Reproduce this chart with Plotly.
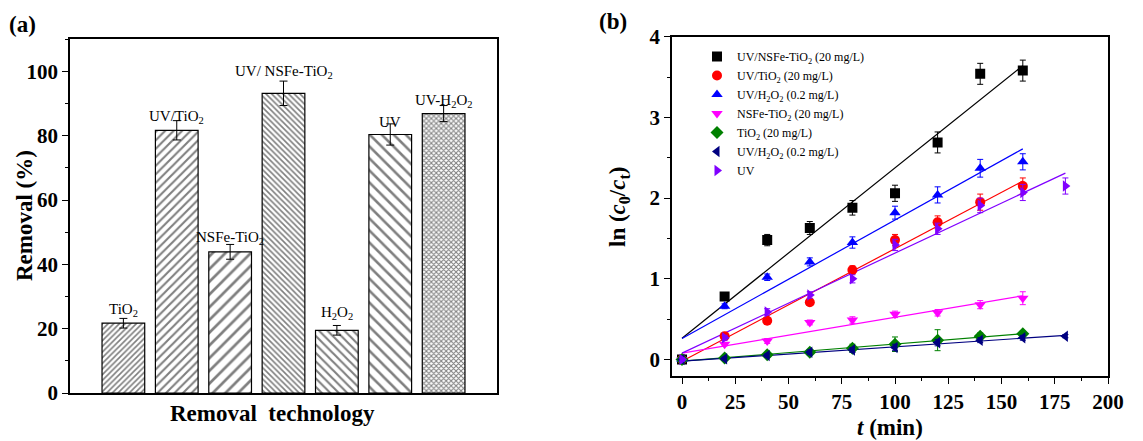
import plotly.graph_objects as go

FONT = "Liberation Serif"

# ---------------- Panel (a) data ----------------
bar_labels = ["TiO<sub>2</sub>", "UV/TiO<sub>2</sub>", "NSFe-TiO<sub>2</sub>", "UV/ NSFe-TiO<sub>2</sub>",
              "H<sub>2</sub>O<sub>2</sub>", "UV", "UV-H<sub>2</sub>O<sub>2</sub>"]
bar_pos = [1, 2, 3, 4, 5, 6, 7]
removal = [21.7, 81.7, 43.9, 93.2, 19.5, 80.4, 86.9]
removal_err = [1.5, 3.0, 2.3, 3.8, 1.5, 3.3, 2.5]

# ---------------- Panel (b) data ----------------
t = [0, 20, 40, 60, 80, 100, 120, 140, 160]
t_ext = [0, 20, 40, 60, 80, 100, 120, 140, 160, 180]

uv_nsfe = [0.0, 0.78, 1.48, 1.63, 1.88, 2.06, 2.69, 3.54, 3.58]
uv_nsfe_err = [0.02, 0.04, 0.07, 0.08, 0.09, 0.10, 0.13, 0.13, 0.13]
uv_tio2 = [0.0, 0.29, 0.48, 0.71, 1.11, 1.48, 1.70, 1.95, 2.15]
uv_tio2_err = [0.02, 0.03, 0.03, 0.04, 0.05, 0.07, 0.08, 0.10, 0.10]
uv_h2o2 = [0.0, 0.66, 1.02, 1.21, 1.45, 1.82, 2.04, 2.37, 2.45]
uv_h2o2_err = [0.02, 0.03, 0.04, 0.05, 0.07, 0.08, 0.10, 0.11, 0.10]
nsfe = [0.0, 0.19, 0.23, 0.46, 0.49, 0.56, 0.58, 0.68, 0.76]
nsfe_err = [0.02, 0.02, 0.03, 0.03, 0.04, 0.04, 0.04, 0.05, 0.08]
tio2 = [0.0, 0.02, 0.06, 0.09, 0.14, 0.19, 0.24, 0.29, 0.32]
tio2_err = [0.02, 0.02, 0.03, 0.03, 0.05, 0.09, 0.13, 0.04, 0.03]
uv_h2o2_b = [0.0, 0.01, 0.05, 0.09, 0.12, 0.15, 0.21, 0.24, 0.27, 0.29]
uv_h2o2_b_err = [0.02, 0.02, 0.02, 0.03, 0.03, 0.04, 0.04, 0.03, 0.03, 0.02]
uv_only = [0.0, 0.27, 0.59, 0.80, 1.00, 1.42, 1.62, 1.91, 2.07, 2.15]
uv_only_err = [0.02, 0.03, 0.04, 0.04, 0.05, 0.07, 0.07, 0.09, 0.10, 0.10]

# linear fit lines (intercept, slope, end time)
fit_intercept = [0.265, -0.02, 0.26, 0.08, -0.02, -0.02, 0.08]
fit_slope = [0.0211, 0.01394, 0.01469, 0.00444, 0.002125, 0.00178, 0.01239]
fit_end = [160, 160, 160, 160, 160, 180, 180]

series_names = ["UV/NSFe-TiO<sub>2</sub> (20 mg/L)", "UV/TiO<sub>2</sub> (20 mg/L)",
                "UV/H<sub>2</sub>O<sub>2</sub> (0.2 mg/L)", "NSFe-TiO<sub>2</sub> (20 mg/L)",
                "TiO<sub>2</sub> (20 mg/L)", "UV/H<sub>2</sub>O<sub>2</sub> (0.2 mg/L)", "UV"]
series_x = [t, t, t, t, t, t_ext, t_ext]
series_y = [uv_nsfe, uv_tio2, uv_h2o2, nsfe, tio2, uv_h2o2_b, uv_only]
series_err = [uv_nsfe_err, uv_tio2_err, uv_h2o2_err, nsfe_err, tio2_err, uv_h2o2_b_err, uv_only_err]

# ---------------- Styles ----------------
patterns = [("/", 4, 0.4), ("/", 6, 0.35), ("/", 9, 0.3), ("\\", 4, 0.4), ("\\", 6, 0.35),
            ("\\", 8.5, 0.3), ("x", 3.5, 0.5)]
symbols = ["square", "circle", "triangle-up", "triangle-down", "diamond", "triangle-left", "triangle-right"]
colors = ["#000000", "#ff0000", "#0000ff", "#ff00ff", "#008000", "#000080", "#8000ff"]
label_offset = [2.6, 1.0, 2.0, 2.8, 3.8, 0.6, 1.4]

fig = go.Figure()

# Panel (a) bars
for i in range(len(bar_pos)):
    shp, sz, sol = patterns[i]
    fig.add_trace(go.Bar(
        x=[bar_pos[i]], y=[removal[i]], width=0.8,
        error_y=dict(type="data", array=[removal_err[i]], color="black", thickness=1, width=4),
        marker=dict(color="white", line=dict(color="black", width=1.2),
                    pattern=dict(shape=shp, size=sz, solidity=sol, fgcolor="black", bgcolor="white")),
        showlegend=False, xaxis="x", yaxis="y"))

for i in range(len(bar_pos)):
    fig.add_annotation(x=bar_pos[i], y=removal[i] + removal_err[i] + label_offset[i],
                       xref="x", yref="y", text=bar_labels[i], showarrow=False,
                       xanchor="center", yanchor="middle", font=dict(family=FONT, size=15, color="black"))

# Panel (b) fit lines
for i in range(len(series_names)):
    x0, x1 = 0, fit_end[i]
    fig.add_trace(go.Scatter(
        x=[x0, x1], y=[fit_intercept[i] + fit_slope[i] * x0, fit_intercept[i] + fit_slope[i] * x1],
        mode="lines", line=dict(color=colors[i], width=1.2), showlegend=False,
        hoverinfo="skip", xaxis="x2", yaxis="y2"))

# Panel (b) markers
for i in range(len(series_names)):
    fig.add_trace(go.Scatter(
        x=series_x[i], y=series_y[i], mode="markers", name=series_names[i],
        marker=dict(symbol=symbols[i], color=colors[i], size=10),
        error_y=dict(type="data", array=series_err[i], color=colors[i], thickness=1, width=3),
        xaxis="x2", yaxis="y2"))

axis_common = dict(showline=True, linecolor="black", linewidth=1.6, mirror=True, automargin=False,
                   showgrid=False, zeroline=False, ticks="outside", ticklen=6, tickwidth=1.2,
                   tickcolor="black",
                   tickfont=dict(family=FONT, size=21, color="black", weight="bold"))

fig.update_layout(
    width=1143, height=441,
    margin=dict(l=0, r=0, t=0, b=0, autoexpand=False),
    paper_bgcolor="white", plot_bgcolor="white",
    bargap=0.2,
    xaxis=dict(domain=[70 / 1143, 497 / 1143], range=[0, 8], showline=True, linecolor="black",
               linewidth=1.6, mirror=True, showgrid=False, zeroline=False, ticks="",
               showticklabels=False, anchor="y", automargin=False),
    yaxis=dict(domain=[(441 - 393) / 441, (441 - 39.3) / 441], range=[0, 110],
               tickvals=[0, 20, 40, 60, 80, 100], anchor="x",
               minor=dict(ticks="outside", ticklen=3, dtick=10, tickcolor="black"),
               **axis_common),
    xaxis2=dict(domain=[672 / 1143, 1108 / 1143], range=[-4.7, 200], tickvals=[0, 25, 50, 75, 100, 125, 150, 175, 200],
                anchor="y2", minor=dict(ticks="outside", ticklen=3, dtick=12.5, tick0=0, tickcolor="black"),
                **axis_common),
    yaxis2=dict(domain=[(441 - 375.7) / 441, (441 - 36.7) / 441], range=[-0.2, 4.0],
                tickvals=[0, 1, 2, 3, 4], anchor="x2",
                minor=dict(ticks="outside", ticklen=3, dtick=0.5, tick0=0, tickcolor="black"),
                **axis_common),
    legend=dict(x=697 / 1143, y=1 - 42 / 441, xanchor="left", yanchor="top",
                bgcolor="rgba(0,0,0,0)", borderwidth=0,
                font=dict(family=FONT, size=12, color="black"), tracegroupgap=0),
    font=dict(family=FONT, color="black"),
)

# axis titles and panel labels as annotations
def label(x, y, text, angle=0):
    fig.add_annotation(x=x / 1143, y=1 - y / 441, xref="paper", yref="paper", text=text,
                       textangle=angle, showarrow=False, xanchor="center", yanchor="middle",
                       font=dict(family=FONT, size=23, color="black"))

label(24, 216, "<b>Removal (%)</b>", -90)
label(272, 413, "<b>Removal  technology</b>")
label(619, 207, "<b>ln (<i>c</i><sub>0</sub>/<i>c</i><sub>t</sub>)</b>", -90)
label(890, 427, "<b><i>t</i> (min)</b>")
label(22, 25, "<b>(a)</b>")
label(613, 22, "<b>(b)</b>")

fig.write_html("out.html")
